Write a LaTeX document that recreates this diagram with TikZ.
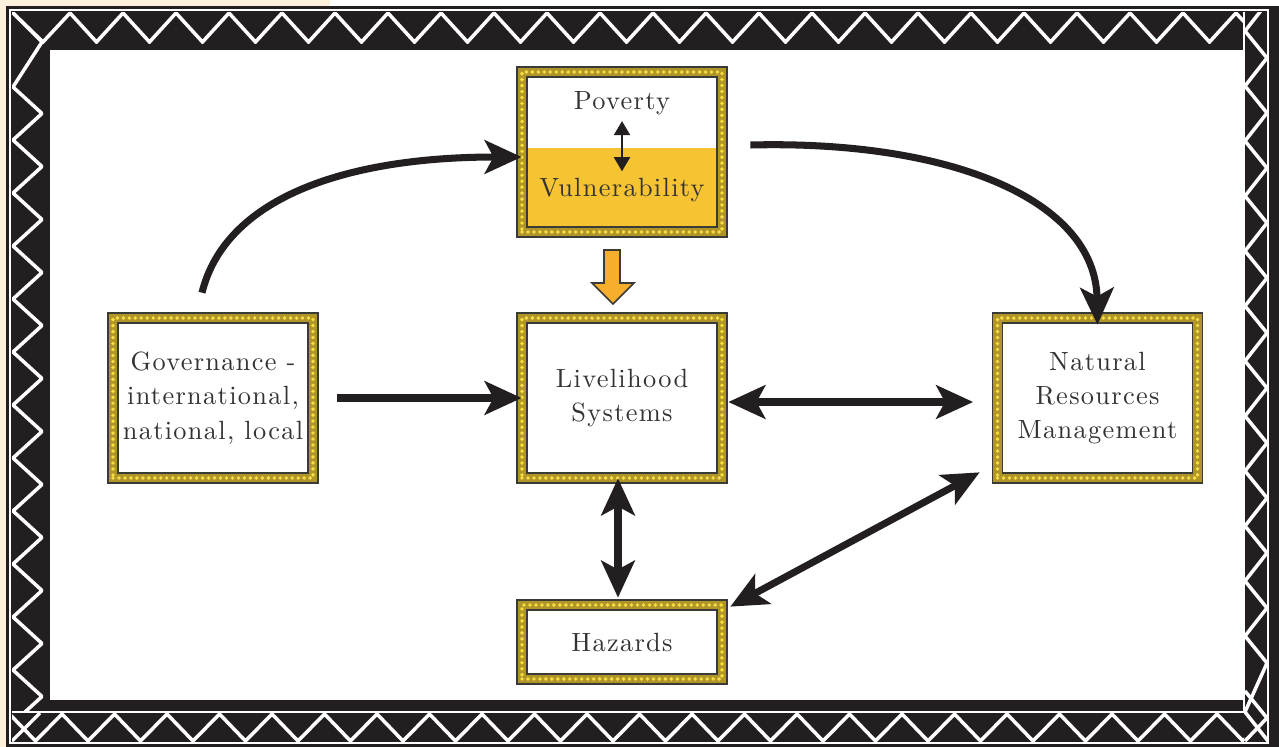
\documentclass[tikz,border=0pt]{standalone}
\usepackage{fontspec}
\setmainfont{lmroman10-regular}[Extension=.otf, LetterSpace=5]
\usetikzlibrary{arrows.meta}

\definecolor{ink}{HTML}{231F20}
\definecolor{cream}{HTML}{FDF0DC}
\definecolor{bandc}{HTML}{B09628}
\definecolor{dotc}{HTML}{F8DC44}
\definecolor{edgec}{HTML}{3A3A36}
\definecolor{vul}{HTML}{F6C432}
\definecolor{orng}{HTML}{F6AE2C}
\definecolor{txt}{HTML}{333333}

\tikzset{
  bigtip/.tip={Stealth[length=21pt,width=19pt,inset=5pt]},
  smalltip/.tip={Triangle[length=8pt,width=9pt]},
  conn/.style={draw=ink, line width=4pt},
  box/.style={rectangle, inner sep=0pt, minimum width=4cm, minimum height=3.2cm,
    fill=white, align=center, text=txt,
    font=\fontsize{15}{19.5}\selectfont,
    postaction={draw=edgec, line width=6.6pt},
    postaction={draw=bandc, line width=4.6pt},
    postaction={draw=dotc, line width=2.2pt, line cap=round, dash pattern=on 0pt off 3.4pt}},
  lbl/.style={inner sep=0pt, text=txt, font=\fontsize{15}{19.5}\selectfont},
  zz/.style={draw=white, line width=2pt, line join=miter},
}

\begin{document}
\begin{tikzpicture}[x=0.02cm, y=-0.02cm]
\useasboundingbox (0,0) rectangle (1279,747);

% --- decorative frame ---
\fill[cream] (0,0) rectangle (330,6);
\fill[cream] (0,0) rectangle (6,747);
\fill[ink] (6,6) rectangle (1279,747);
\draw[white, line width=1pt] (10,10) rectangle (1268,743);
\fill[white] (50,50) rectangle (1243,700);
\draw[white, line width=1pt] (12,712) -- (1244,712) -- (1244,12);

% top zigzag
\begin{scope}
  \clip (12,12) rectangle (1244,43);
  \draw[zz] (12,12) -- (43,42)
    \foreach \k in {0,...,22} { -- ({70+53*\k},13) -- ({96.5+53*\k},42) };
\end{scope}
% left zigzag
\begin{scope}
  \clip (12,12) rectangle (43,712);
  \draw[zz] (12,12) -- (42,42)
    \foreach \k in {0,...,12} { -- (13,{87+53*\k}) -- (42,{113.5+53*\k}) };
\end{scope}
% bottom zigzag
\begin{scope}
  \clip (12,713) rectangle (1244,741);
  \draw[zz] (1269.5,714)
    \foreach \k in {0,...,23} { -- ({1243-52.5*\k},741) -- ({1217-52.5*\k},714) };
  \draw[zz] (12,741) -- (40,713);
\end{scope}
% right zigzag
\begin{scope}
  \clip (1244,12) rectangle (1268,741);
  \draw[zz] (1268,741) -- (1245,712)
    \foreach \k in {0,...,12} { -- (1267,{663-55*\k}) -- (1245,{636-55*\k}) };
  \draw[zz] (1245,691) -- (1267,718) -- (1245,741);
\end{scope}

% --- boxes ---
\node[box, path picture={\fill[vul] (path picture bounding box.south west)
      rectangle ([yshift=0.08cm]path picture bounding box.east);}]
      (pov) at (622,152) {};
\node[lbl] (pvt) at (622,103) {Poverty};
\node[lbl] (vut) at (622,190) {Vulnerability};
\draw[draw=ink, line width=1.5pt, smalltip-smalltip]
  ([yshift=-0.12cm]pvt.south) -- ([yshift=0.13cm]vut.north);

\node[box] (gov) at (213,398) {Governance -\\international,\\national, local};
\node[box] (liv) at (622,398) {Livelihood\\Systems};
\node[box] (nrm) at (1097.5,398) {Natural\\Resources\\Management};
\node[box, minimum height=1.48cm] (haz) at (622,642) {Hazards};

% orange block arrow above the livelihood box
\filldraw[fill=orng, draw=edgec, line width=0.9pt, line join=miter]
  (604,250) -- (620,250) -- (620,283) -- (634,283) -- (613,304)
  -- (592,283) -- (604,283) -- cycle;

% --- connectors ---
\draw[conn, -bigtip] ([xshift=-0.22cm, yshift=0.5cm]gov.north)
  .. controls +(23,-93) and +(-180,0) .. ([yshift=-0.1cm]pov.west);
\draw[conn, -bigtip] ([xshift=0.56cm, yshift=0.14cm]pov.east)
  .. controls +(200,-5) and +(-2,-125) .. ([yshift=-0.14cm]nrm.north);
\draw[conn, -bigtip] ([xshift=0.48cm]gov.east) -- (liv.west);
\draw[conn, bigtip-bigtip] ([xshift=0.12cm, yshift=-0.08cm]liv.east)
  -- ([xshift=-0.48cm, yshift=-0.08cm]nrm.west);
\draw[conn, bigtip-bigtip] ([xshift=-0.08cm]liv.south)
  -- ([xshift=-0.08cm, yshift=0.14cm]haz.north);
\draw[conn, bigtip-bigtip] ([xshift=0.16cm, yshift=-0.04cm]haz.north east)
  -- ([xshift=-0.35cm, yshift=0.12cm]nrm.south west);
\end{tikzpicture}
\end{document}
